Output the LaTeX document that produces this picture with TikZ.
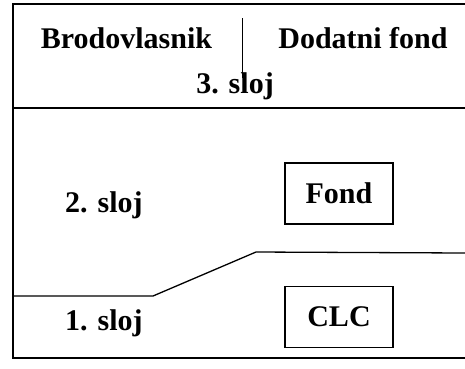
\documentclass[tikz,border=0pt]{standalone}
\usepackage{fontspec}
\setmainfont{Liberation Serif}
\begin{document}
\begin{tikzpicture}[x=1pt,y=-1pt,
  lbl/.style={font=\fontsize{30}{33}\selectfont\bfseries, inner sep=0pt, anchor=base},
  fbox/.style={draw, line width=1.2pt, minimum width=108pt, minimum height=61pt, inner sep=0pt, font=\fontsize{30}{33}\selectfont\bfseries},
  frame/.style={line width=2pt},
  thin/.style={line width=1.3pt}]
\useasboundingbox (0,0) rectangle (465,368);
% frame
\draw[frame] (465,4) -- (13,4) -- (13,358) -- (465,358);
\draw[thin] (13,108) -- (465,108);
\draw[line width=1pt] (242,18) -- (242,78);
\draw[thin] (13,296) -- (153,296) -- (256,252) -- (465,253);
% texts
\node[lbl] (brod) at (126.5,48) {Brodovlasnik};
\node[lbl] (dod) at (363,48) {Dodatni fond};
\node[lbl] (s3) at (235,93) {3. sloj};
\node[lbl, anchor=base west] (s2) at (65,212) {2. sloj};
\node[lbl, anchor=base west] (s1) at (65,330) {1. sloj};
\node[fbox] (fond) at (339,193.5) {Fond};
\node[fbox] (clc) at (339,317) {CLC};
\end{tikzpicture}
\end{document}
